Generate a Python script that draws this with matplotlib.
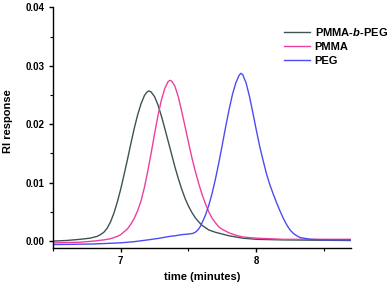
#!/usr/bin/env python3

import matplotlib
matplotlib.use('Agg')
import matplotlib.pyplot as plt
from matplotlib.ticker import MultipleLocator

plt.rcParams['font.family'] = ['Liberation Sans', 'DejaVu Sans']
plt.rcParams['font.weight'] = 'bold'
plt.rcParams['axes.labelweight'] = 'bold'
plt.rcParams['mathtext.fontset'] = 'custom'
plt.rcParams['mathtext.it'] = 'Liberation Sans:italic:bold'
plt.rcParams['mathtext.rm'] = 'Liberation Sans:bold'

# values (time in minutes, RI response)
t_block = [6.50, 6.60, 6.70, 6.775, 6.825, 6.85, 6.875, 6.90, 6.925, 6.95,
           6.975, 7.00, 7.025, 7.05, 7.075, 7.10, 7.125, 7.15, 7.175, 7.19,
           7.207, 7.225, 7.25, 7.275, 7.30, 7.325, 7.35, 7.375, 7.40, 7.425,
           7.45, 7.475, 7.50, 7.525, 7.55, 7.575, 7.60, 7.65, 7.70, 7.75,
           7.80, 7.85, 7.90, 8.00, 8.20, 8.70]
ri_block = [0.0000, 0.0001, 0.0003, 0.0005, 0.0008, 0.0011, 0.0015, 0.0022,
            0.0033, 0.0048, 0.0067, 0.0089, 0.0114, 0.0140, 0.0167, 0.0193,
            0.0216, 0.0235, 0.0249, 0.0254, 0.0257, 0.0255, 0.0247, 0.0233,
            0.0214, 0.0193, 0.0171, 0.0149, 0.0127, 0.0107, 0.0089, 0.0073,
            0.0060, 0.0049, 0.0040, 0.0033, 0.0027, 0.0019, 0.0015, 0.0012,
            0.0009, 0.0007, 0.0005, 0.0003, 0.0002, 0.0001]

t_pmma = [6.50, 6.70, 6.80, 6.875, 6.925, 6.975, 7.00, 7.025, 7.05, 7.075,
          7.10, 7.125, 7.15, 7.175, 7.20, 7.225, 7.25, 7.275, 7.30, 7.325,
          7.35, 7.363, 7.375, 7.40, 7.425, 7.45, 7.475, 7.50, 7.525, 7.55,
          7.575, 7.60, 7.625, 7.65, 7.675, 7.70, 7.725, 7.75, 7.80, 7.85,
          7.90, 8.00, 8.20, 8.70]
ri_pmma = [-0.0003, -0.0002, 0.0000, 0.0002, 0.0004, 0.0008, 0.0011, 0.0016,
           0.0021, 0.0029, 0.0039, 0.0052, 0.0069, 0.0092, 0.0120, 0.0151,
           0.0184, 0.0215, 0.0241, 0.0261, 0.0273, 0.0275, 0.0274, 0.0265,
           0.0247, 0.0222, 0.0196, 0.0169, 0.0143, 0.0120, 0.0099, 0.0080,
           0.0064, 0.0050, 0.0039, 0.0031, 0.0024, 0.0020, 0.0014, 0.0010,
           0.0007, 0.0005, 0.0003, 0.0003]

t_peg = [6.50, 6.80, 7.00, 7.10, 7.20, 7.29, 7.36, 7.40, 7.45, 7.50, 7.53,
         7.55, 7.57, 7.585, 7.60, 7.625, 7.65, 7.675, 7.70, 7.725, 7.75,
         7.775, 7.80, 7.825, 7.85, 7.875, 7.887, 7.90, 7.925, 7.95, 7.975,
         8.00, 8.025, 8.05, 8.075, 8.10, 8.125, 8.15, 8.175, 8.20, 8.225,
         8.25, 8.275, 8.30, 8.325, 8.35, 8.40, 8.50, 8.70]
ri_peg = [-0.0006, -0.0005, -0.0003, -0.0001, 0.0002, 0.0005, 0.0008, 0.0009,
          0.0011, 0.0012, 0.0013, 0.0015, 0.0019, 0.0024, 0.0031, 0.0044,
          0.0061, 0.0082, 0.0107, 0.0135, 0.0165, 0.0196, 0.0225, 0.0251,
          0.0271, 0.0284, 0.0287, 0.0285, 0.0271, 0.0248, 0.0220, 0.0191,
          0.0163, 0.0139, 0.0116, 0.0097, 0.0081, 0.0066, 0.0052, 0.0039,
          0.0028, 0.0019, 0.0013, 0.0009, 0.0006, 0.0005, 0.0003, 0.0002,
          0.0002]

fig = plt.figure(figsize=(3.92, 2.86), dpi=100)
ax = fig.add_axes([53 / 392, 38.5 / 286, 298 / 392, 240.2 / 286])

ax.plot(t_block, ri_block, color='#3d5454', lw=1.0, label=r'PMMA-$\it{b}$-PEG')
ax.plot(t_pmma, ri_pmma, color='#ee3f9f', lw=1.0, label='PMMA')
ax.plot(t_peg, ri_peg, color='#4c4cf2', lw=1.0, label='PEG')

ax.set_xlim(6.5, 8.7)
ax.set_ylim(-0.0011, 0.04)
ax.xaxis.set_major_locator(MultipleLocator(1))
ax.xaxis.set_minor_locator(MultipleLocator(0.5))
ax.yaxis.set_major_locator(MultipleLocator(0.01))
ax.yaxis.set_minor_locator(MultipleLocator(0.005))
ax.yaxis.set_major_formatter(plt.FormatStrFormatter('%.2f'))

for side in ['top', 'right']:
    ax.spines[side].set_visible(False)
for side in ['left', 'bottom']:
    ax.spines[side].set_linewidth(1.0)
ax.tick_params(which='major', direction='out', length=3, width=1.0,
               labelsize=7, pad=3)
ax.tick_params(which='minor', direction='out', length=2, width=0.8)

ax.set_xlabel('time (minutes)', fontsize=8)
ax.set_ylabel('RI response', fontsize=8)
ax.xaxis.set_label_coords(0.5, -0.102)
ax.yaxis.set_label_coords(-0.133, 0.525)

ax.legend(loc='upper left', bbox_to_anchor=(284 / 392, 1 - 26 / 286),
          bbox_transform=fig.transFigure, frameon=False, fontsize=8,
          handlelength=2.3, handletextpad=0.45, labelspacing=0.35,
          borderpad=0, borderaxespad=0)

fig.savefig('out.png', dpi=100)
